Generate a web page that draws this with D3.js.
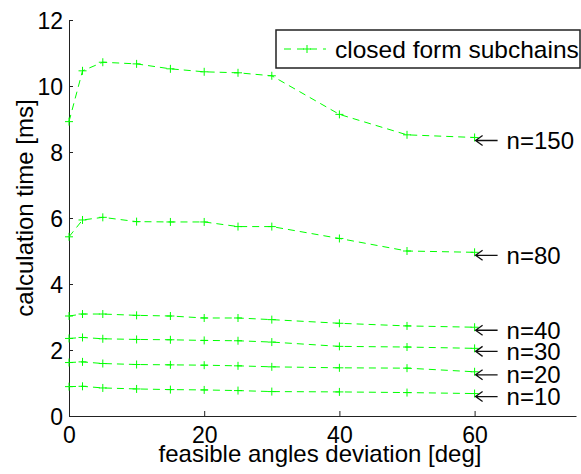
<!DOCTYPE html>
<html>
<head>
<meta charset="utf-8">
<script src="https://cdn.jsdelivr.net/npm/d3@7"></script>
<style>
  body { margin: 0; background: #fff; }
  svg { font-family: "Liberation Sans", Arial, sans-serif; }
</style>
</head>
<body>
<svg width="581" height="474"></svg>
<script>
// feasible angles deviation [deg]
const deviations = [0, 2, 5, 10, 15, 20, 25, 30, 40, 50, 60];

// calculation time [ms] per chain length n
const n150 = [8.92, 10.46, 10.72, 10.67, 10.52, 10.43, 10.40, 10.31, 9.14, 8.52, 8.44];
const n80  = [5.43, 5.94, 6.02, 5.89, 5.88, 5.88, 5.74, 5.74, 5.38, 5.00, 4.96];
const n40  = [3.03, 3.09, 3.09, 3.05, 3.03, 2.97, 2.97, 2.92, 2.81, 2.73, 2.69];
const n30  = [2.35, 2.38, 2.34, 2.32, 2.31, 2.29, 2.28, 2.24, 2.11, 2.09, 2.05];
const n20  = [1.62, 1.64, 1.59, 1.56, 1.55, 1.54, 1.52, 1.49, 1.46, 1.45, 1.34];
const n10  = [0.89, 0.90, 0.85, 0.82, 0.80, 0.79, 0.77, 0.74, 0.73, 0.71, 0.68];

const seriesNames = ['n=150', 'n=80', 'n=40', 'n=30', 'n=20', 'n=10'];
const seriesValues = [n150, n80, n40, n30, n20, n10];

const xTicks = [0, 20, 40, 60];
const yTicks = [0, 2, 4, 6, 8, 10, 12];
const legendLabel = 'closed form subchains';

const svg = d3.select('svg');
const margin = { top: 20, left: 69, right: 5, bottom: 58 };
const width = +svg.attr('width');
const height = +svg.attr('height');
const innerWidth = width - margin.left - margin.right;
const innerHeight = height - margin.top - margin.bottom;

const g = svg.append('g')
  .attr('transform', `translate(${margin.left},${margin.top})`);

const xScale = d3.scaleLinear().domain([0, 75]).range([0, innerWidth]);
const yScale = d3.scaleLinear().domain([0, 12]).range([innerHeight, 0]);

const green = '#00ff00';
const fontFamily = '"Liberation Sans", Arial, sans-serif';

// axes (MATLAB style: ticks inside)
const xAxis = d3.axisBottom(xScale).tickValues(xTicks).tickSize(-5).tickPadding(11).tickSizeOuter(0);
const xAxisG = g.append('g').attr('transform', `translate(0,${innerHeight})`).call(xAxis);
const yAxis = d3.axisLeft(yScale).tickValues(yTicks).tickSize(-4).tickPadding(6).tickSizeOuter(0);
const yAxisG = g.append('g').call(yAxis);

[xAxisG, yAxisG].forEach(a => {
  a.attr('font-size', null).attr('font-family', null)
    .style('font-size', '23px').style('font-family', fontFamily);
  a.select('.domain').attr('stroke', '#222');
  a.selectAll('.tick line').attr('stroke', '#222');
  a.selectAll('.tick text').attr('fill', '#000');
});
yAxisG.selectAll('.tick text').attr('dy', '0.36em');

// lines
const line = d3.line()
  .x((d, i) => xScale(deviations[i]))
  .y(d => yScale(d));

const plusPath = s => `M${-s},0H${s}M0,${-s}V${s}`;

seriesValues.forEach((vals, k) => {
  g.append('path')
    .datum(vals)
    .attr('d', line)
    .attr('fill', 'none')
    .attr('stroke', green)
    .attr('stroke-width', 1)
    .attr('stroke-dasharray', '7,5');

  g.selectAll(null)
    .data(vals).enter()
    .append('path')
      .attr('transform', (d, i) => `translate(${xScale(deviations[i])},${yScale(d)})`)
      .attr('d', plusPath(4))
      .attr('stroke', green)
      .attr('stroke-width', 1);

  // annotation: leftward arrow pointing at the last point, then the label
  const ax = xScale(deviations[deviations.length - 1]);
  const ay = yScale(vals[vals.length - 1]) + 3;
  g.append('path')
    .attr('d', `M${ax + 1},${ay}H${ax + 23}M${ax + 8},${ay - 5}L${ax + 1},${ay}L${ax + 8},${ay + 5}`)
    .attr('fill', 'none')
    .attr('stroke', '#111')
    .attr('stroke-width', 1.3);
  g.append('text')
    .attr('x', ax + 32)
    .attr('y', ay)
    .attr('dy', '0.36em')
    .attr('font-size', '24px')
    .attr('fill', '#000')
    .text(seriesNames[k]);
});

// axis labels
svg.append('text')
  .attr('text-anchor', 'middle')
  .attr('x', 320)
  .attr('y', 462)
  .attr('font-size', '24px')
  .text('feasible angles deviation [deg]');

svg.append('text')
  .attr('text-anchor', 'middle')
  .attr('transform', 'rotate(-90)')
  .attr('x', -208)
  .attr('y', 33)
  .attr('font-size', '24px')
  .text('calculation time [ms]');

// legend
const legend = svg.append('g').attr('transform', 'translate(276,30)');
legend.append('rect')
  .attr('width', 304).attr('height', 38)
  .attr('fill', '#fff')
  .attr('stroke', '#222')
  .attr('stroke-width', 1.5);
legend.append('line')
  .attr('x1', 8).attr('x2', 50).attr('y1', 19).attr('y2', 19)
  .attr('stroke', green).attr('stroke-dasharray', '7,6');
legend.append('path')
  .attr('transform', 'translate(31,19)')
  .attr('d', plusPath(4))
  .attr('stroke', green);
legend.append('text')
  .attr('x', 59).attr('y', 19).attr('dy', '0.36em')
  .attr('font-size', '24.5px')
  .text(legendLabel);
</script>
</body>
</html>
